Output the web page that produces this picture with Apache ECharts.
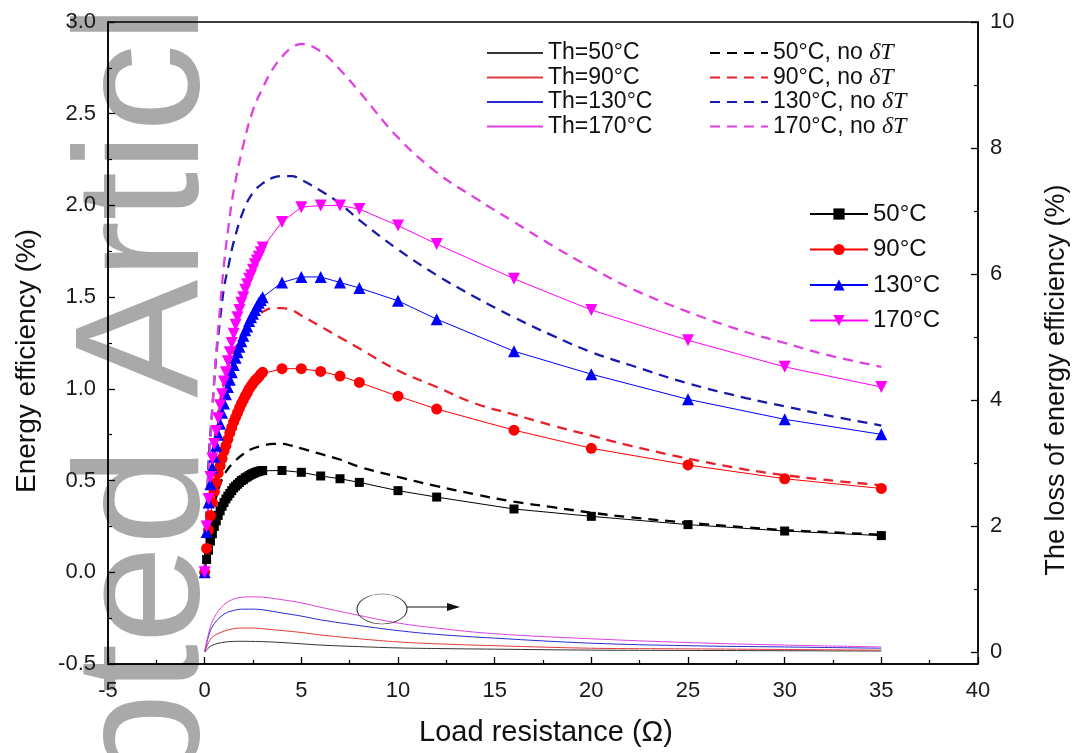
<!DOCTYPE html>
<html>
<head>
<meta charset="utf-8">
<script src="https://cdn.jsdelivr.net/npm/echarts@6/dist/echarts.min.js"></script>
<style>
html,body{margin:0;padding:0;background:#fff;}
#chart{width:1078px;height:753px;}
</style>
</head>
<body>
<div id="chart"></div>
<script>
// ---- data ----
const resistance = [0,0.1,0.2,0.3,0.4,0.5,0.6,0.7,0.8,0.9,1.0,1.1,1.2,1.3,1.4,1.5,1.6,1.7,1.8,1.9,2.0,2.1,2.2,2.3,2.4,2.5,2.6,2.7,2.8,2.9,3.0,4,5,6,7,8,10,12,16,20,25,30,35];
const eff50 = [0,0.07,0.12,0.17,0.21,0.25,0.28,0.31,0.335,0.36,0.38,0.40,0.415,0.43,0.445,0.46,0.47,0.48,0.49,0.50,0.505,0.515,0.52,0.527,0.533,0.538,0.543,0.547,0.55,0.553,0.555,0.555,0.545,0.525,0.51,0.49,0.445,0.41,0.345,0.305,0.26,0.225,0.20];
const eff90 = [0,0.13,0.23,0.31,0.38,0.44,0.49,0.54,0.58,0.62,0.66,0.69,0.725,0.76,0.79,0.82,0.845,0.87,0.895,0.92,0.94,0.96,0.98,1.0,1.015,1.03,1.045,1.055,1.065,1.08,1.09,1.11,1.11,1.095,1.07,1.035,0.96,0.89,0.775,0.676,0.585,0.51,0.457];
const eff130 = [0,0.22,0.38,0.48,0.57,0.63,0.69,0.75,0.81,0.87,0.92,0.97,1.01,1.05,1.09,1.13,1.17,1.20,1.23,1.26,1.29,1.32,1.34,1.37,1.39,1.41,1.43,1.45,1.47,1.485,1.50,1.58,1.61,1.61,1.58,1.55,1.48,1.38,1.205,1.08,0.943,0.834,0.752];
const eff170 = [0,0.25,0.40,0.52,0.62,0.70,0.77,0.84,0.91,0.97,1.04,1.09,1.15,1.20,1.25,1.30,1.35,1.39,1.43,1.47,1.50,1.54,1.57,1.60,1.62,1.65,1.68,1.70,1.72,1.745,1.77,1.91,1.99,2.00,2.00,1.98,1.89,1.79,1.60,1.43,1.265,1.12,1.01];

const resistanceNoDT = [0,0.2,0.4,0.6,0.8,1.0,1.25,1.5,2,2.5,3,3.5,4,4.5,5,6,7,8,10,12,14,16,18,20,22,25,28,30,32,35];
const noDT50 = [0,0.2,0.32,0.41,0.48,0.53,0.57,0.60,0.645,0.675,0.69,0.70,0.70,0.69,0.675,0.645,0.615,0.575,0.52,0.47,0.425,0.385,0.355,0.325,0.30,0.27,0.245,0.23,0.22,0.205];
const noDT90 = [0,0.38,0.62,0.80,0.94,1.04,1.13,1.20,1.31,1.38,1.42,1.44,1.44,1.43,1.40,1.34,1.28,1.22,1.10,1.01,0.92,0.86,0.80,0.745,0.69,0.62,0.56,0.53,0.505,0.475];
const noDT130 = [0,0.6,0.9,1.18,1.38,1.55,1.68,1.80,1.97,2.07,2.12,2.15,2.16,2.16,2.14,2.08,2.01,1.92,1.76,1.62,1.50,1.39,1.29,1.20,1.13,1.03,0.95,0.905,0.86,0.80];
const noDT170 = [0,0.55,0.9,1.2,1.45,1.68,1.9,2.08,2.33,2.52,2.64,2.74,2.81,2.86,2.88,2.84,2.74,2.62,2.37,2.18,2.04,1.91,1.78,1.66,1.55,1.42,1.31,1.25,1.19,1.12];

const resistanceLoss = [0,0.25,0.5,1,1.5,2,2.5,3,4,5,6,8,10,12,15,20,25,30,35];
const loss50 = [0,0.08,0.12,0.155,0.168,0.17,0.168,0.165,0.15,0.13,0.11,0.085,0.065,0.055,0.045,0.03,0.025,0.02,0.015];
const loss90 = [0,0.18,0.26,0.33,0.37,0.38,0.38,0.37,0.34,0.31,0.27,0.21,0.16,0.13,0.10,0.06,0.05,0.04,0.03];
const loss130 = [0,0.3,0.45,0.6,0.66,0.68,0.68,0.67,0.62,0.57,0.51,0.42,0.34,0.28,0.22,0.14,0.10,0.08,0.06];
const loss170 = [0,0.35,0.55,0.75,0.84,0.87,0.875,0.87,0.83,0.78,0.71,0.58,0.46,0.38,0.29,0.21,0.15,0.11,0.08];

const xTicks = {min:-5, max:40, interval:5};
const yLeftTicks = {min:-0.5, max:3, interval:0.5};
const yRightTicks = {min:0, max:10, interval:2};

const markerNames = ['50°C','90°C','130°C','170°C'];
const noDTNames = ['50°C, no δT','90°C, no δT','130°C, no δT','170°C, no δT'];
const lossNames = ['Th=50°C','Th=90°C','Th=130°C','Th=170°C'];
const xTitle = 'Load resistance (Ω)';
const yLeftTitle = 'Energy efficiency (%)';
const yRightTitle = 'The loss of energy efficiency (%)';
const watermark = 'Accepted Article';
// ---- end data ----

const colors = ['#000000','#ff0000','#0000ff','#ff00ff'];
const dashColors = ['#000000','#e8202a','#1a1aa8','#e040e0'];
const lossColors = ['#333333','#e03a3a','#2a2ad0','#e040e0'];
const FONT = 'Liberation Sans, Arial, sans-serif';
const pair = (xs, ys) => xs.map((x, i) => [x, ys[i]]);

const effSets = [eff50, eff90, eff130, eff170];
const noDTSets = [noDT50, noDT90, noDT130, noDT170];
const lossSets = [loss50, loss90, loss130, loss170];
const symbols = [
  {symbol:'rect', size:9, rotate:0},
  {symbol:'circle', size:11, rotate:0},
  {symbol:'triangle', size:12, rotate:0},
  {symbol:'triangle', size:12, rotate:180}
];

const series = [];
lossSets.forEach((d, i) => series.push({
  name: lossNames[i], type:'line', xAxisIndex:1, yAxisIndex:1,
  data: pair(resistanceLoss, d), smooth:0.4, symbol:'none',
  lineStyle:{color:lossColors[i], width:1}, itemStyle:{color:lossColors[i]}, z:3
}));
noDTSets.forEach((d, i) => series.push({
  name: noDTNames[i], type:'line', xAxisIndex:0, yAxisIndex:0,
  data: pair(resistanceNoDT, d), smooth:0.4, symbol:'none',
  lineStyle:{color:dashColors[i], width:2.3, type:[10,7]}, itemStyle:{color:dashColors[i]}, z:4
}));
effSets.forEach((d, i) => series.push({
  name: markerNames[i], type:'line', xAxisIndex:0, yAxisIndex:0,
  data: pair(resistance, d), symbol: symbols[i].symbol, symbolSize: symbols[i].size,
  symbolRotate: symbols[i].rotate, showSymbol:true, showAllSymbol:true,
  lineStyle:{color:colors[i], width:1}, itemStyle:{color:colors[i]}, z:5
}));

const axisLabelStyle = {color:'#1a1a1a', fontSize:22, fontFamily:FONT};
const legendText = {fontSize:23, fontFamily:FONT, color:'#111', lineHeight:24,
  rich:{i:{fontStyle:'italic', fontFamily:'Liberation Serif, serif', fontSize:24, color:'#111', lineHeight:24}}};
const tickCommon = {
  z:3,
  axisLine:{show:true, onZero:false, lineStyle:{color:'#000', width:1.5}},
  axisTick:{show:true, inside:true, length:7, lineStyle:{color:'#000', width:1.3}},
  minorTick:{show:true, splitNumber:2, length:4, lineStyle:{color:'#000', width:1.2}},
  splitLine:{show:false}
};

const option = {
  animation:false,
  backgroundColor:'#fff',
  grid:[
    {left:108, right:100, top:22, bottom:89, show:true, z:3, borderColor:'#000', borderWidth:1.5, backgroundColor:'transparent', outerBoundsMode:'none'},
    {left:108, right:100, top:22, bottom:101, outerBoundsMode:'none'}
  ],
  xAxis:[
    Object.assign({gridIndex:0, type:'value', min:xTicks.min, max:xTicks.max, interval:xTicks.interval,
     axisLabel:Object.assign({margin:16}, axisLabelStyle)}, tickCommon),
    {gridIndex:1, type:'value', min:xTicks.min, max:xTicks.max, show:false}
  ],
  yAxis:[
    Object.assign({gridIndex:0, type:'value', position:'left', min:yLeftTicks.min, max:yLeftTicks.max, interval:yLeftTicks.interval,
     axisLabel:Object.assign({margin:12, formatter:v => v.toFixed(1)}, axisLabelStyle)}, tickCommon),
    Object.assign({gridIndex:1, type:'value', position:'right', min:yRightTicks.min, max:yRightTicks.max, interval:yRightTicks.interval,
     axisLabel:Object.assign({margin:12}, axisLabelStyle)}, tickCommon)
  ],
  legend:[
    {data:lossNames, orient:'vertical', left:481, top:36, itemWidth:56, itemHeight:12, itemGap:0.5,
     textStyle:legendText, selectedMode:false, itemStyle:{opacity:0}},
    {data:noDTNames, orient:'vertical', left:704, top:36, itemWidth:58, itemHeight:12, itemGap:0.5,
     textStyle:legendText, selectedMode:false, itemStyle:{opacity:0},
     formatter: n => n.replace('δT', '{i|δT}')},
    {data:markerNames, orient:'vertical', left:804, top:197, itemWidth:58, itemHeight:14, itemGap:11.5,
     textStyle:Object.assign({}, legendText, {fontSize:24}), selectedMode:false}
  ],
  graphic:[
    {type:'text', x:61, y:-94, rotation:Math.PI/2, z:-10,
     style:{text:watermark, font:'177px Liberation Sans', fill:'#a9a9a9', align:'right', verticalAlign:'top'}},
    {type:'text', x:546, y:733, style:{text:xTitle, font:'29px Liberation Sans', fill:'#111', align:'center', verticalAlign:'middle'}},
    {type:'text', x:27, y:361, rotation:Math.PI/2, style:{text:yLeftTitle, font:'28px Liberation Sans', fill:'#111', align:'center', verticalAlign:'middle'}},
    {type:'text', x:1057, y:380, rotation:Math.PI/2, style:{text:yRightTitle, font:'27px Liberation Sans', fill:'#111', align:'center', verticalAlign:'middle'}},
    {type:'circle', shape:{cx:0, cy:0, r:25}, x:382, y:609, scaleY:0.6,
     style:{fill:'none', stroke:'#444', lineWidth:1.2}, z:10},
    {type:'line', shape:{x1:407, y1:607, x2:450, y2:607}, style:{stroke:'#111', lineWidth:1.2}, z:10},
    {type:'polygon', shape:{points:[[447,603],[460,607],[447,611]]}, style:{fill:'#111'}, z:10}
  ],
  series: series
};

const chart = echarts.init(document.getElementById('chart'), null, {renderer:'canvas'});
chart.setOption(option);
</script>
</body>
</html>
